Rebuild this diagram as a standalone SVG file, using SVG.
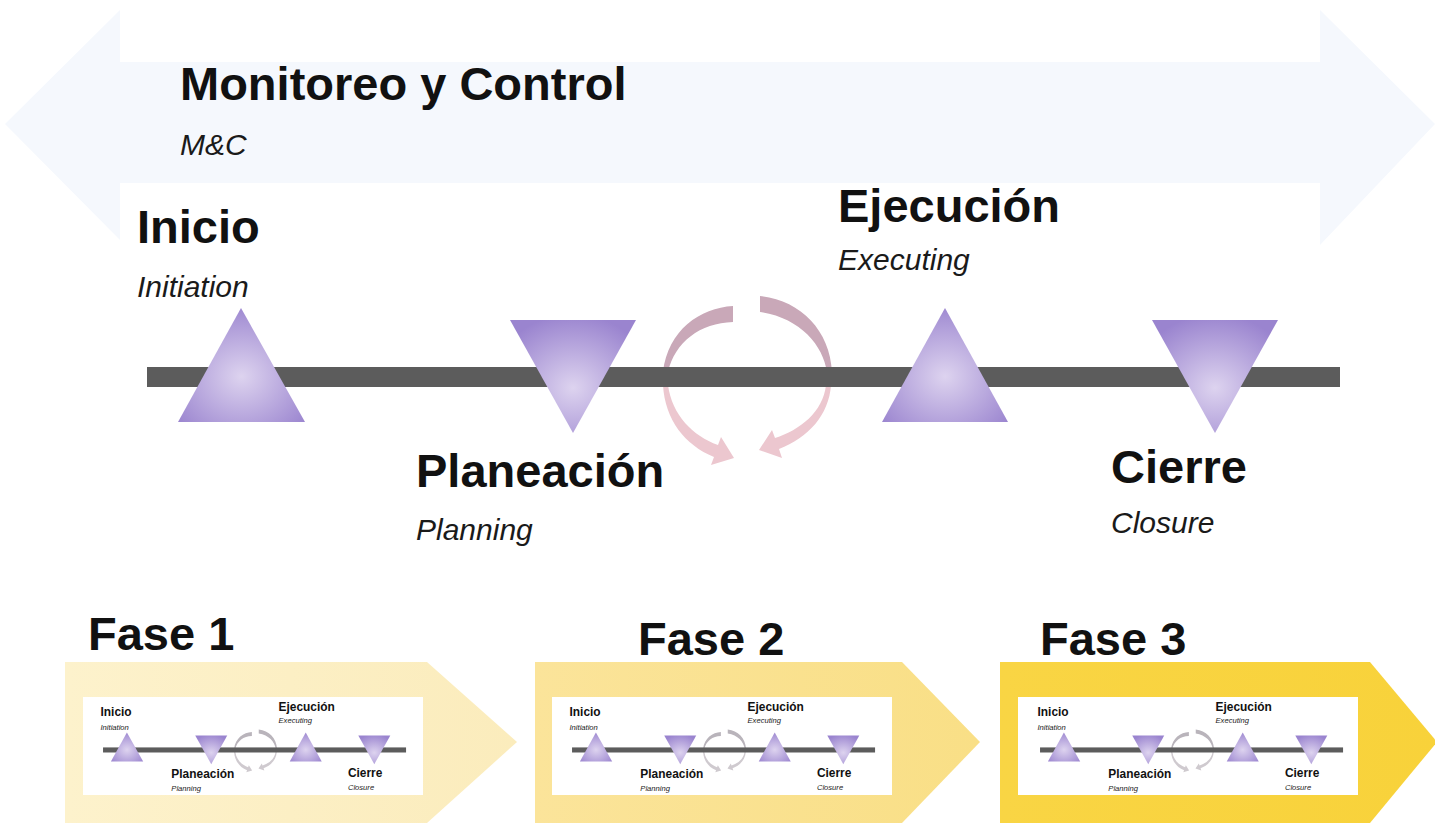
<svg xmlns="http://www.w3.org/2000/svg" xmlns:xlink="http://www.w3.org/1999/xlink" width="1435" height="826" viewBox="0 0 1435 826">
<style>
.b{font-family:"Liberation Sans",Arial,sans-serif;font-weight:bold;font-size:47px;fill:#111}
.i{font-family:"Liberation Sans",Arial,sans-serif;font-style:italic;font-size:30px;fill:#1a1a1a}
.tri{fill:url(#triG)}
.bar{fill:#5c5c5c}
.inner{fill:#ffffff}
</style>
<defs>
<radialGradient id="triG" cx="0.5" cy="0.6" r="0.65">
<stop offset="0" stop-color="#ddd3ef"/>
<stop offset="1" stop-color="#9a84cf"/>
</radialGradient>
<linearGradient id="f1" x1="0" y1="0" x2="1" y2="0">
<stop offset="0" stop-color="#fdf2cc"/>
<stop offset="1" stop-color="#fbecbc"/>
</linearGradient>
<linearGradient id="f2" x1="0" y1="0" x2="1" y2="0">
<stop offset="0" stop-color="#fbe49a"/>
<stop offset="1" stop-color="#f9df86"/>
</linearGradient>
<linearGradient id="f3" x1="0" y1="0" x2="1" y2="0">
<stop offset="0" stop-color="#f9d544"/>
<stop offset="1" stop-color="#f8d23a"/>
</linearGradient>
<g id="cycTop">
<path d="M 733 306 C 700 308 668 330 663 372 L 668 372 C 675 342 700 323 733 322 Z"/>
<path d="M 760 296 C 800 300 830 330 832 372 L 827 372 C 823 345 800 318 760 312 Z"/>
</g>
<g id="cycBot">
<path d="M 663 385 C 665 420 685 445 714 457 L 711 465 L 734 458 L 721 437 L 718 445 C 693 436 672 415 668 385 Z"/>
<path d="M 831 385 C 829 415 808 438 779 449 L 782 458 L 759 450 L 772 430 L 775 438 C 800 430 823 412 826 385 Z"/>
</g>
</defs>
<rect width="1435" height="826" fill="#ffffff"/>

<g id="mc">
<polygon points="5,124 120,10 120,62 1320,62 1320,10 1435,124 1320,245 1320,183 120,183 120,240" fill="#f5f8fd"/>
<text class="b" x="180" y="100">Monitoreo y Control</text>
<text class="i" x="180" y="155">M&amp;C</text>
</g>

<g id="cycle">
<use xlink:href="#cycTop" fill="#c9a8b8"/>
<use xlink:href="#cycBot" fill="#ecc7cf"/>
</g>

<g id="timeline">
<rect class="bar" x="147" y="367" width="1193" height="20"/>
<g id="inicio">
<polygon class="tri" points="241,308 305,422 178,422"/>
<text class="b" x="137" y="243">Inicio</text>
<text class="i" x="137" y="297">Initiation</text>
</g>
<g id="planeacion">
<polygon class="tri" points="510,320 636,320 573,433"/>
<text class="b" x="416" y="487">Planeación</text>
<text class="i" x="416" y="540">Planning</text>
</g>
<g id="ejecucion">
<polygon class="tri" points="945,308 1008,422 882,422"/>
<text class="b" x="838" y="222">Ejecución</text>
<text class="i" x="838" y="270">Executing</text>
</g>
<g id="cierre">
<polygon class="tri" points="1152,320 1278,320 1215,433"/>
<text class="b" x="1111" y="483">Cierre</text>
<text class="i" x="1111" y="533">Closure</text>
</g>
</g>

<g id="fase1">
<polygon points="65,662 427,662 517,742 427,823 65,823" fill="url(#f1)"/>
<rect class="inner" x="83" y="697" width="340" height="98"/>
<g transform="translate(65.7 654.2) scale(0.254)">
<use xlink:href="#cycTop" fill="#b9b4bb"/>
<use xlink:href="#cycBot" fill="#cfcacf"/>
<use xlink:href="#timeline"/>
</g>
<text class="b" x="88" y="650">Fase 1</text>
</g>

<g id="fase2">
<polygon points="535,662 902,662 980,742 902,823 535,823" fill="url(#f2)"/>
<rect class="inner" x="552" y="697" width="340" height="98"/>
<g transform="translate(534.7 654.2) scale(0.254)">
<use xlink:href="#cycTop" fill="#b9b4bb"/>
<use xlink:href="#cycBot" fill="#cfcacf"/>
<use xlink:href="#timeline"/>
</g>
<text class="b" x="638" y="655">Fase 2</text>
</g>

<g id="fase3">
<polygon points="1000,662 1370,662 1437,742 1370,823 1000,823" fill="url(#f3)"/>
<rect class="inner" x="1018" y="697" width="340" height="98"/>
<g transform="translate(1002.7 654.2) scale(0.254)">
<use xlink:href="#cycTop" fill="#b9b4bb"/>
<use xlink:href="#cycBot" fill="#cfcacf"/>
<use xlink:href="#timeline"/>
</g>
<text class="b" x="1040" y="655">Fase 3</text>
</g>
</svg>
